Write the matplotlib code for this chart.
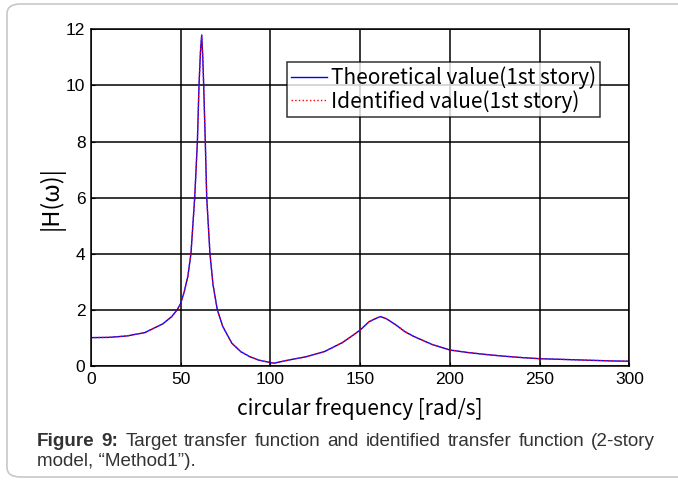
import matplotlib
matplotlib.use("Agg")
import matplotlib.pyplot as plt
from matplotlib.patches import FancyBboxPatch

# values
freq = [0, 10, 20, 30, 40, 45, 48, 50, 52, 54, 55.7, 57.8, 59.3, 60.2, 61,
        61.7, 62.3, 62.8, 63.7, 64.5, 66.3, 68, 70.4, 73.5, 78.5, 83.5, 88.5,
        93.5, 98.5, 102, 110, 120, 130, 140, 145, 150, 155, 160, 161.5, 165,
        170, 175, 180, 190, 200, 210, 220, 230, 240, 250, 260, 270, 280, 290, 300]
theoretical = [1.01, 1.02, 1.07, 1.19, 1.50, 1.76, 2.0, 2.23, 2.65, 3.2, 4.0,
               6.0, 8.0, 10.0, 11.2, 11.8, 11.0, 10.0, 8.0, 6.0, 4.0, 2.9, 2.0,
               1.40, 0.81, 0.51, 0.33, 0.21, 0.14, 0.10, 0.21, 0.33, 0.51, 0.83,
               1.05, 1.28, 1.58, 1.73, 1.76, 1.67, 1.46, 1.22, 1.05, 0.77, 0.57,
               0.48, 0.41, 0.35, 0.30, 0.26, 0.24, 0.22, 0.20, 0.18, 0.17]
identified = theoretical[:]  # identified curve lies on top of the theoretical one

xticks = [0, 50, 100, 150, 200, 250, 300]
yticks = [0, 2, 4, 6, 8, 10, 12]

jp = ["Noto Sans CJK JP", "DejaVu Sans"]
arial = ["Liberation Sans", "DejaVu Sans"]

fig = plt.figure(figsize=(6.78, 4.82), dpi=100)

# rounded gray frame round the figure
frame = FancyBboxPatch((7 / 678, 5 / 482), 700 / 678, 473 / 482,
                       boxstyle="round,pad=0,rounding_size=0.02",
                       transform=fig.transFigure, facecolor="none",
                       edgecolor="#c8c8c8", linewidth=1.2, zorder=-1)
fig.patches.append(frame)

ax = fig.add_axes([0.1342, 0.2407, 0.7940, 0.6985])
ax.plot(freq, theoretical, color="blue", lw=1.0, label="Theoretical value(1st story)")
ax.plot(freq, identified, color="red", lw=1.0, ls=":", label="Identified value(1st story)")

ax.set_xlim(0, 300)
ax.set_ylim(0, 12)
ax.set_xticks(xticks)
ax.set_yticks(yticks)
ax.grid(True, color="black", lw=1.1, ls="-")
ax.set_axisbelow(True)
ax.tick_params(direction="in", length=3, labelsize=12.5, colors="black", pad=4)
for lab in ax.get_xticklabels() + ax.get_yticklabels():
    lab.set_family(arial)
for sp in ax.spines.values():
    sp.set_linewidth(1.1)

ax.set_xlabel("circular frequency [rad/s]", family=jp, fontsize=15, labelpad=8)
ax.set_ylabel("|H(ω)|", family=jp, fontsize=17, labelpad=1)

leg = ax.legend(loc="upper right", bbox_to_anchor=(0.946, 0.902),
                prop={"family": jp, "size": 15}, frameon=True, fancybox=False,
                handlelength=1.7, handletextpad=0.2, borderpad=0.2,
                labelspacing=0.05, borderaxespad=0)
leg.get_frame().set_edgecolor("black")
leg.get_frame().set_linewidth(1.1)

# caption, first line justified between x=37 and x=655
cap_color = "#333333"
words = ["Figure", "9:", "Target", "transfer", "function", "and", "identified",
         "transfer", "function", "(2-story"]
renderer = fig.canvas.get_renderer()
texts = []
for i, w in enumerate(words):
    t = fig.text(0, 1 - 442 / 482, w, family=arial, fontsize=13.6, color=cap_color,
                 va="center", fontweight="bold" if i < 2 else "normal")
    texts.append(t)
widths = [t.get_window_extent(renderer).width for t in texts]
gap = (655 - 37 - sum(widths)) / (len(words) - 1)
x = 37
for t, w in zip(texts, widths):
    t.set_x(x / 678)
    x += w + gap
fig.text(37 / 678, 1 - 462 / 482, "model, \u201cMethod1\u201d).", family=arial,
         fontsize=13.6, color=cap_color, va="center")

fig.savefig("out.png", dpi=100)
